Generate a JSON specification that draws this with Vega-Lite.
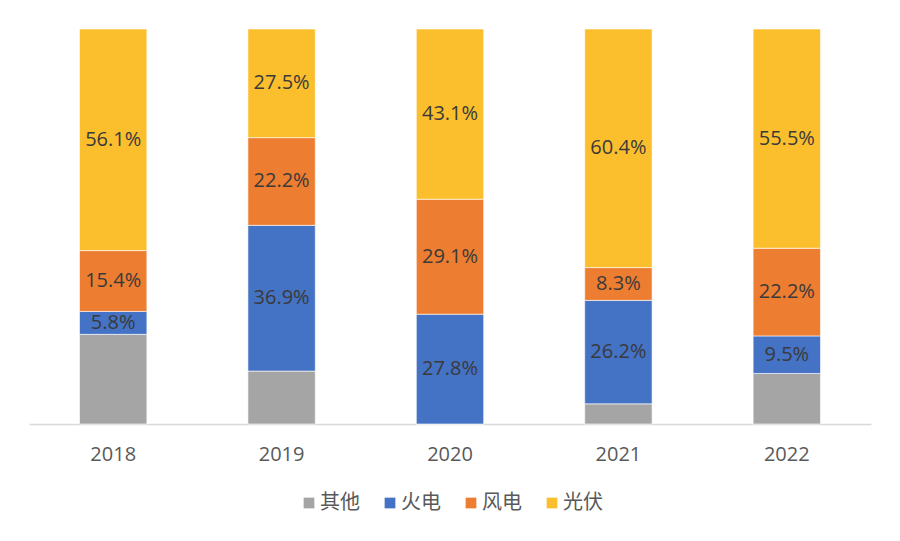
{
  "$schema": "https://vega.github.io/schema/vega-lite/v6.json",
  "width": 842,
  "height": 395,
  "autosize": "none",
  "padding": {"left": 29, "top": 29, "right": 29, "bottom": 117},
  "background": "white",
  "config": {"view": {"stroke": null}},
  "data": {
    "values": [
      {"year": "2018", "type": "其他", "value": 22.7},
      {"year": "2018", "type": "火电", "value": 5.8},
      {"year": "2018", "type": "风电", "value": 15.4},
      {"year": "2018", "type": "光伏", "value": 56.1},
      {"year": "2019", "type": "其他", "value": 13.4},
      {"year": "2019", "type": "火电", "value": 36.9},
      {"year": "2019", "type": "风电", "value": 22.2},
      {"year": "2019", "type": "光伏", "value": 27.5},
      {"year": "2020", "type": "其他", "value": 0},
      {"year": "2020", "type": "火电", "value": 27.8},
      {"year": "2020", "type": "风电", "value": 29.1},
      {"year": "2020", "type": "光伏", "value": 43.1},
      {"year": "2021", "type": "其他", "value": 5.1},
      {"year": "2021", "type": "火电", "value": 26.2},
      {"year": "2021", "type": "风电", "value": 8.3},
      {"year": "2021", "type": "光伏", "value": 60.4},
      {"year": "2022", "type": "其他", "value": 12.8},
      {"year": "2022", "type": "火电", "value": 9.5},
      {"year": "2022", "type": "风电", "value": 22.2},
      {"year": "2022", "type": "光伏", "value": 55.5}
    ]
  },
  "transform": [
    {"calculate": "indexof(['其他','火电','风电','光伏'], datum.type)", "as": "k"},
    {"stack": "value", "groupby": ["year"], "sort": [{"field": "k", "order": "ascending"}], "as": ["y0", "y1"]},
    {"calculate": "(datum.y0 + datum.y1) / 2", "as": "ymid"},
    {"calculate": "format(datum.value, '.1f') + '%'", "as": "label"}
  ],
  "encoding": {
    "x": {
      "field": "year",
      "type": "nominal",
      "title": null,
      "scale": {"paddingInner": 0.6, "paddingOuter": 0.3},
      "axis": {
        "labelAngle": 0,
        "ticks": false,
        "domainColor": "#d9d9d9",
        "domainWidth": 1.5,
        "labelFont": "Open Sans",
        "labelFontSize": 20,
        "labelColor": "#595959",
        "labelPadding": 20
      }
    }
  },
  "layer": [
    {
      "mark": {"type": "bar", "stroke": "white", "strokeWidth": 0.6},
      "encoding": {
        "y": {"field": "y0", "type": "quantitative", "scale": {"domain": [0, 100]}, "axis": null},
        "y2": {"field": "y1"},
        "color": {
          "field": "type",
          "type": "nominal",
          "scale": {
            "domain": ["其他", "火电", "风电", "光伏"],
            "range": ["#A5A5A5", "#4472C4", "#ED7D31", "#FBBF2D"]
          },
          "legend": {
            "title": null,
            "orient": "none",
            "direction": "horizontal",
            "legendX": 270,
            "legendY": 464,
            "padding": 0,
            "symbolType": "square",
            "symbolSize": 115,
            "symbolStrokeWidth": 0,
            "labelFont": "Noto Sans CJK SC",
            "labelFontSize": 20,
            "labelColor": "#595959",
            "labelOffset": 1,
            "columnPadding": 20
          }
        }
      }
    },
    {
      "transform": [{"filter": "datum.type !== '其他'"}],
      "mark": {"type": "text", "font": "Open Sans", "fontSize": 20, "fontWeight": 500, "color": "#3a3a3a", "baseline": "middle"},
      "encoding": {
        "y": {"field": "ymid", "type": "quantitative", "scale": {"domain": [0, 100]}},
        "text": {"field": "label"}
      }
    }
  ]
}
